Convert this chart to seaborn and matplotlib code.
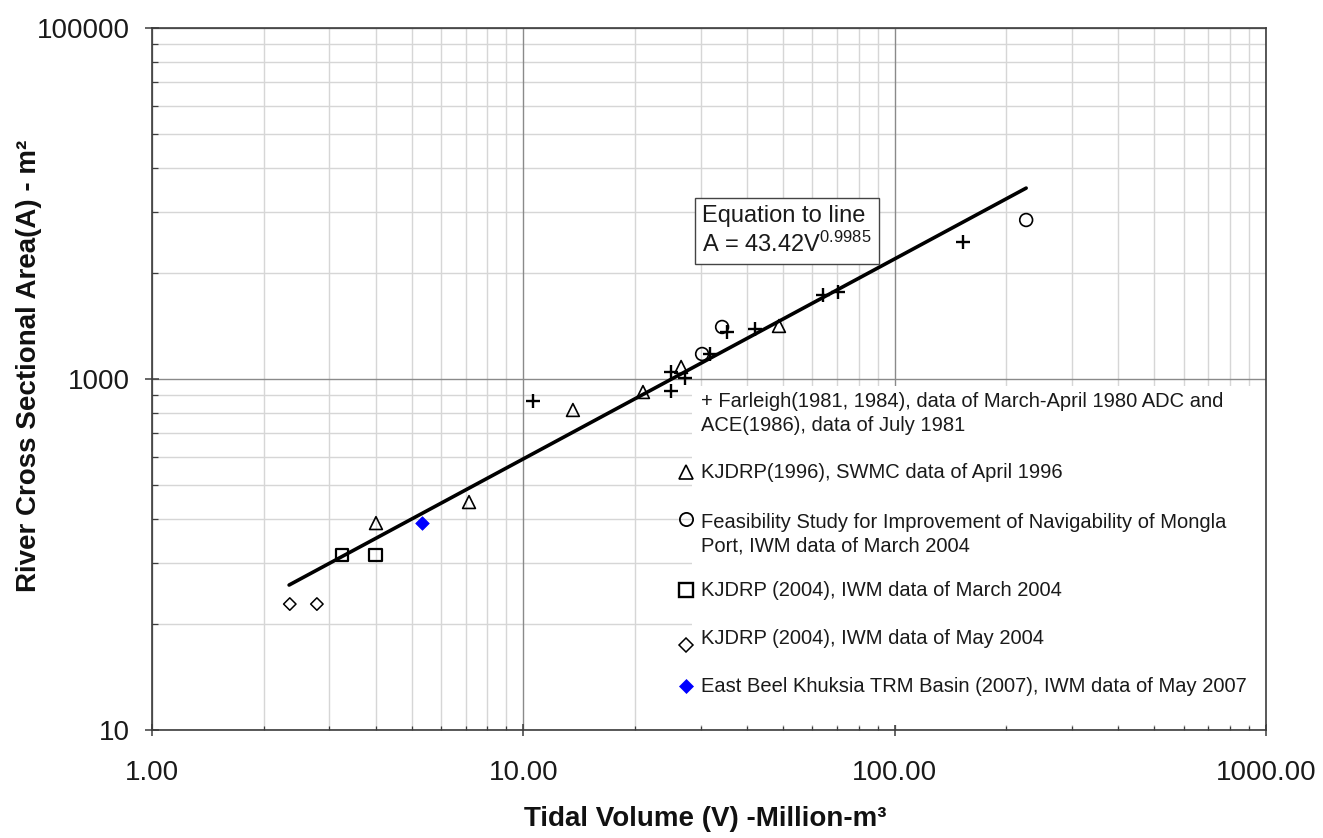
import numpy as np
import pandas as pd
import matplotlib
matplotlib.use("Agg")
import matplotlib.pyplot as plt
import seaborn as sns
from matplotlib.patches import Rectangle
from matplotlib.ticker import FixedLocator, FixedFormatter, NullFormatter

# ---------------- data ----------------
farleigh_v = [10.6, 25.0, 25.0, 27.3, 31.8, 35.4, 42.1, 64.2, 70.4, 152.8]
farleigh_a = [749, 854, 1096, 1013, 1388, 1853, 1927, 3010, 3131, 6035]

kjdrp1996_v = [4.01, 7.14, 13.6, 21.0, 26.6, 48.8]
kjdrp1996_a = [151, 199, 666, 843, 1171, 2005]

mongla_v = [30.3, 34.3, 226.0]
mongla_a = [1388, 1979, 8054]

kjdrp2004mar_v = [3.25, 3.99]
kjdrp2004mar_a = [99.4, 99.4]

kjdrp2004may_v = [2.35, 2.78]
kjdrp2004may_a = [52.2, 52.2]

eastbeel_v = [5.34]
eastbeel_a = [151]

fit_v = [2.34, 226.0]
fit_a = [67.0, 12240.0]

legend_labels = [
    "+ Farleigh(1981, 1984), data of March-April 1980 ADC and\nACE(1986), data of July 1981",
    "KJDRP(1996), SWMC data of April 1996",
    "Feasibility Study for Improvement of Navigability of Mongla\nPort, IWM data of March 2004",
    "KJDRP (2004), IWM data of March 2004",
    "KJDRP (2004), IWM data of May 2004",
    "East Beel Khuksia TRM Basin (2007), IWM data of May 2007",
]
equation_text = "Equation to line\nA = 43.42V$^{\\mathrm{0.9985}}$"

x_ticks = [1, 10, 100, 1000]
x_tick_labels = ["1.00", "10.00", "100.00", "1000.00"]
y_ticks = [10, 1000, 100000]
y_tick_labels = ["10", "1000", "100000"]
x_label = "Tidal Volume (V) -Million-m\u00b3"
y_label = "River Cross Sectional Area(A) - m\u00b2"

# ---------------- style ----------------
sns.set_style("white")
plt.rcParams["font.family"] = ["Liberation Sans", "DejaVu Sans"]
plt.rcParams["mathtext.fontset"] = "custom"
plt.rcParams["mathtext.rm"] = "Liberation Sans"
plt.rcParams["mathtext.it"] = "Liberation Sans:italic"
plt.rcParams["mathtext.bf"] = "Liberation Sans:bold"

W, H = 1323, 838
fig = plt.figure(figsize=(W / 100, H / 100), dpi=100)
ax_l, ax_r, ax_t, ax_b = 152, 1266, 28, 730
ax = fig.add_axes([ax_l / W, 1 - ax_b / H, (ax_r - ax_l) / W, (ax_b - ax_t) / H])
ax.set_xscale("log")
ax.set_yscale("log")
ax.set_xlim(1, 1000)
ax.set_ylim(10, 100000)

# tick locators
x_minor = [d * k for d in (1, 10, 100) for k in range(2, 10)]
y_minor = [d * k * k for d in (10, 1000) for k in range(2, 10)]
ax.xaxis.set_major_locator(FixedLocator(x_ticks))
ax.xaxis.set_major_formatter(FixedFormatter(x_tick_labels))
ax.xaxis.set_minor_locator(FixedLocator(x_minor))
ax.xaxis.set_minor_formatter(NullFormatter())
ax.yaxis.set_major_locator(FixedLocator(y_ticks))
ax.yaxis.set_major_formatter(FixedFormatter(y_tick_labels))
ax.yaxis.set_minor_locator(FixedLocator(y_minor))
ax.yaxis.set_minor_formatter(NullFormatter())

# gridlines (drawn manually so the legend panel can cover them)
ax.grid(False)
minor_c, major_c = "#d6d6d6", "#8a8a8a"
for v in x_minor:
    ax.axvline(v, color=minor_c, lw=1.0, zorder=0.2)
for v in y_minor:
    ax.axhline(v, color=minor_c, lw=1.0, zorder=0.2)
for v in x_ticks:
    ax.axvline(v, color=major_c, lw=1.0, zorder=0.3)
for v in y_ticks:
    ax.axhline(v, color=major_c, lw=1.0, zorder=0.3)

spine_c = "#3c3c3c"
for s in ax.spines.values():
    s.set_visible(True)
    s.set_color(spine_c)
    s.set_linewidth(1.2)

ax.tick_params(axis="x", which="major", direction="inout", length=9, width=1.1,
               color=spine_c, pad=17, labelsize=20, labelcolor="#1a1a1a",
               bottom=True, top=False)
ax.tick_params(axis="x", which="minor", direction="in", length=3, width=0.9,
               color=spine_c, bottom=True, top=False)
ax.tick_params(axis="y", which="major", direction="inout", length=10, width=1.1,
               color=spine_c, pad=11, labelsize=20, labelcolor="#1a1a1a",
               left=True, right=False)
ax.tick_params(axis="y", which="minor", direction="in", length=4, width=0.9,
               color=spine_c, left=True, right=False)

# legend panel (white, covers the grid)
box_x0 = (692 - ax_l) / (ax_r - ax_l)
box_y0 = (ax_b - 725) / (ax_b - ax_t)
box_y1 = (ax_b - 386) / (ax_b - ax_t)
ax.add_patch(Rectangle((box_x0, box_y0), 1 - box_x0, box_y1 - box_y0,
                       transform=ax.transAxes, facecolor="white",
                       edgecolor="none", zorder=1))

# ---------------- data marks ----------------
sns.lineplot(x=fit_v, y=fit_a, color="black", lw=2.6, ax=ax, zorder=4, sort=False)

sns.scatterplot(x=farleigh_v, y=farleigh_a, marker="+", s=100, color="black",
                linewidth=1.7, ax=ax, zorder=5)
sns.scatterplot(x=kjdrp1996_v, y=kjdrp1996_a, marker="^", s=85, facecolor="none",
                edgecolor="black", linewidth=1.2, ax=ax, zorder=5)
sns.scatterplot(x=mongla_v, y=mongla_a, marker="o", s=85, facecolor="none",
                edgecolor="black", linewidth=1.2, ax=ax, zorder=5)
sns.scatterplot(x=kjdrp2004mar_v, y=kjdrp2004mar_a, marker="s", s=85, facecolor="none",
                edgecolor="black", linewidth=1.6, ax=ax, zorder=5)
sns.scatterplot(x=kjdrp2004may_v, y=kjdrp2004may_a, marker="D", s=40, facecolor="none",
                edgecolor="black", linewidth=1.1, ax=ax, zorder=5)
sns.scatterplot(x=eastbeel_v, y=eastbeel_a, marker="D", s=48, color="#0000ff",
                edgecolor="#0000ff", linewidth=0.5, ax=ax, zorder=5)

# ---------------- equation box ----------------
def fx(px):
    return (px - ax_l) / (ax_r - ax_l)

def fy(py):
    return (ax_b - py) / (ax_b - ax_t)

ax.text(fx(702), fy(231), equation_text, transform=ax.transAxes, ha="left",
        va="center", fontsize=17, color="#1a1a1a", linespacing=1.25, zorder=6,
        bbox=dict(boxstyle="square,pad=0.3", facecolor="white",
                  edgecolor="#444444", linewidth=1.0))

# ---------------- legend ----------------
text_x = fx(701)
mark_x = fx(686)
entry_y = [413.5, 472, 534, 591, 638, 686]
mark_y = [None, 472, 519, 590, 645, 686]
legend_markers = [None, "^", "o", "s", "D", "D"]
legend_ms = [0, 10, 9.5, 10, 7, 7.5]
legend_fc = [None, "none", "none", "none", "none", "#0000ff"]
legend_ec = [None, "black", "black", "black", "black", "#0000ff"]
legend_lw = [0, 1.2, 1.3, 1.7, 1.1, 0.5]
for i, lab in enumerate(legend_labels):
    ax.text(text_x, fy(entry_y[i]), lab, transform=ax.transAxes, ha="left",
            va="center", fontsize=14.5, color="#1a1a1a", linespacing=1.3, zorder=6)
    if legend_markers[i] is not None:
        ax.plot([mark_x], [fy(mark_y[i])], marker=legend_markers[i],
                ms=legend_ms[i], mfc=legend_fc[i], mec=legend_ec[i],
                mew=legend_lw[i], ls="none", transform=ax.transAxes, zorder=6,
                clip_on=False)

# ---------------- axis labels ----------------
ax.set_xlabel(x_label, fontsize=20, fontweight="bold", color="#111111")
ax.xaxis.set_label_coords(fx(705), fy(806))
ax.set_ylabel(y_label, fontsize=20, fontweight="bold", color="#111111")
ax.yaxis.set_label_coords(fx(42), fy(366))

fig.savefig("out.png", dpi=100, facecolor="white")
